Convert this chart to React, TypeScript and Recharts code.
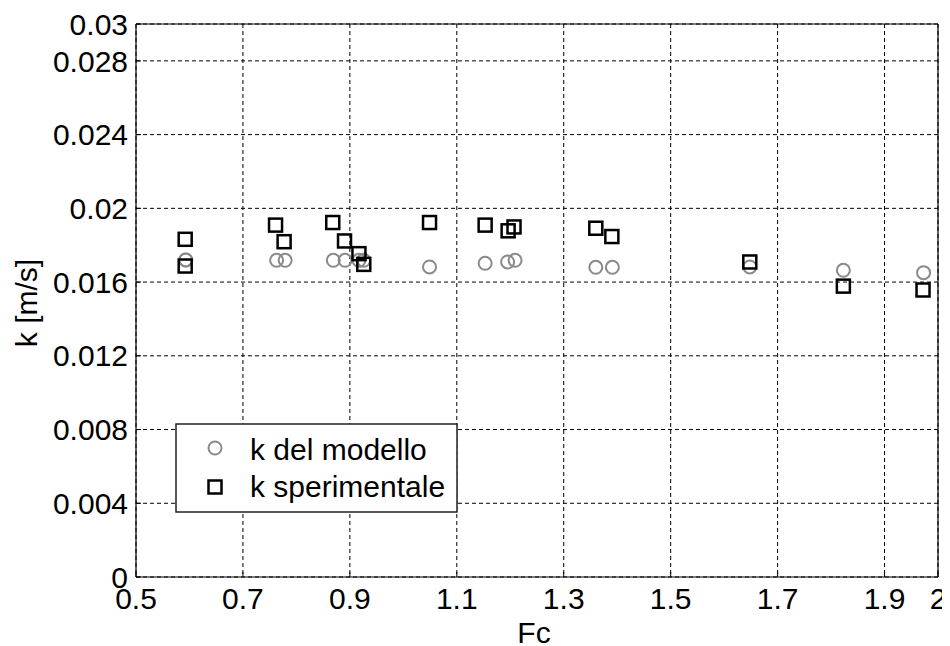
import React from 'react';
import { ScatterChart, Scatter, XAxis, YAxis, CartesianGrid, ReferenceLine, Legend } from 'recharts';

const fcModel = [0.593, 0.593, 0.763, 0.779, 0.869, 0.891, 0.917, 0.926, 1.049, 1.153, 1.195, 1.209, 1.360, 1.391, 1.648, 1.823, 1.973];
const kModel = [0.0172, 0.0172, 0.01718, 0.01718, 0.01718, 0.01718, 0.01718, 0.01718, 0.01682, 0.01702, 0.01709, 0.01718, 0.0168, 0.0168, 0.01682, 0.01664, 0.01651];
const fcExp = [0.592, 0.592, 0.761, 0.777, 0.868, 0.890, 0.917, 0.926, 1.049, 1.153, 1.196, 1.207, 1.360, 1.390, 1.648, 1.823, 1.972];
const kExp = [0.01832, 0.01687, 0.01909, 0.01819, 0.01923, 0.01823, 0.01754, 0.01696, 0.01923, 0.01909, 0.01878, 0.01899, 0.01892, 0.01847, 0.01709, 0.01578, 0.01557];

const xTicks = [0.5, 0.7, 0.9, 1.1, 1.3, 1.5, 1.7, 1.9, 2];
const yTicks = [0, 0.004, 0.008, 0.012, 0.016, 0.02, 0.024, 0.028, 0.03];
const yTickLabels = ['0', '0.004', '0.008', '0.012', '0.016', '0.02', '0.024', '0.028', '0.03'];
const seriesNames = ['k del modello', 'k sperimentale'];

const modelData = fcModel.map((x, i) => ({ x, y: kModel[i] }));
const expData = fcExp.map((x, i) => ({ x, y: kExp[i] }));

const FONT = '"Liberation Sans", Arial, sans-serif';
const GRAY = '#8a8a8a';

const CircleShape = (p: any) => (
  <circle cx={p.cx} cy={p.cy} r={6.5} fill="none" stroke={GRAY} strokeWidth={2} />
);
const SquareShape = (p: any) => (
  <rect x={p.cx - 6.5} y={p.cy - 6.5} width={13} height={13} fill="none" stroke="#000" strokeWidth={2.5} />
);

const LegendBox = () => (
  <svg width={283} height={90} style={{ display: 'block' }}>
    <rect x={1} y={1} width={281} height={88} fill="#fff" stroke="#222" strokeWidth={1.5} />
    <circle cx={40} cy={25} r={6.5} fill="none" stroke={GRAY} strokeWidth={2} />
    <rect x={33.5} y={57.5} width={13} height={13} fill="none" stroke="#000" strokeWidth={2.5} />
    <text x={75} y={36.5} fontFamily={FONT} fontSize={30} fill="#000">{seriesNames[0]}</text>
    <text x={75} y={73.5} fontFamily={FONT} fontSize={30} fill="#000">{seriesNames[1]}</text>
  </svg>
);

export default function App() {
  return (
    <div style={{ width: 950, height: 638 }}>
      <style>{'html,body{overflow:hidden;}'}</style>
      <ScatterChart width={950} height={638} margin={{ top: 16, right: 20, bottom: 0, left: 0 }} style={{ overflow: 'visible' }}>
        <CartesianGrid stroke="#000" strokeDasharray="4 3" strokeWidth={1} />
        <XAxis
          type="number"
          dataKey="x"
          domain={[0.5, 2]}
          ticks={xTicks}
          interval={0}
          height={69}
          tickSize={-5}
          tickMargin={16}
          axisLine={{ stroke: '#000', strokeWidth: 1.2 }}
          tickLine={{ stroke: '#000' }}
          tick={{ fill: '#000', fontSize: 30, fontFamily: FONT }}
          tickFormatter={(v: number) => String(v)}
          allowDataOverflow
          label={{
            content: () => (
              <text x={526} y={635} textAnchor="middle" fontFamily={FONT} fontSize={30} fill="#000">Fc</text>
            ),
          }}
        />
        <YAxis
          type="number"
          dataKey="y"
          domain={[0, 0.03]}
          ticks={yTicks}
          interval={0}
          width={128}
          tickSize={-5}
          tickMargin={13}
          axisLine={{ stroke: '#000', strokeWidth: 1.2 }}
          tickLine={{ stroke: '#000' }}
          tick={{ fill: '#000', fontSize: 30, fontFamily: FONT }}
          tickFormatter={(v: number) => yTickLabels[yTicks.indexOf(v)] ?? String(v)}
          allowDataOverflow
          label={{
            content: () => (
              <text x={29} y={295} transform="rotate(-90 29 295)" textAnchor="middle" fontFamily={FONT} fontSize={30} fill="#000">k [m/s]</text>
            ),
          }}
        />
        <ReferenceLine y={0.03} stroke="#000" strokeWidth={1.2} />
        <ReferenceLine x={2} stroke="#000" strokeWidth={1.2} />
        <Legend
          layout="vertical"
          align="center"
          verticalAlign="middle"
          content={() => <LegendBox />}
          wrapperStyle={{ position: 'absolute', left: 167, top: 415, width: 283, height: 90, bottom: 'auto', right: 'auto' }}
        />
        <Scatter name={seriesNames[0]} data={modelData} shape={CircleShape} isAnimationActive={false} />
        <Scatter name={seriesNames[1]} data={expData} shape={SquareShape} isAnimationActive={false} />
      </ScatterChart>
    </div>
  );
}
